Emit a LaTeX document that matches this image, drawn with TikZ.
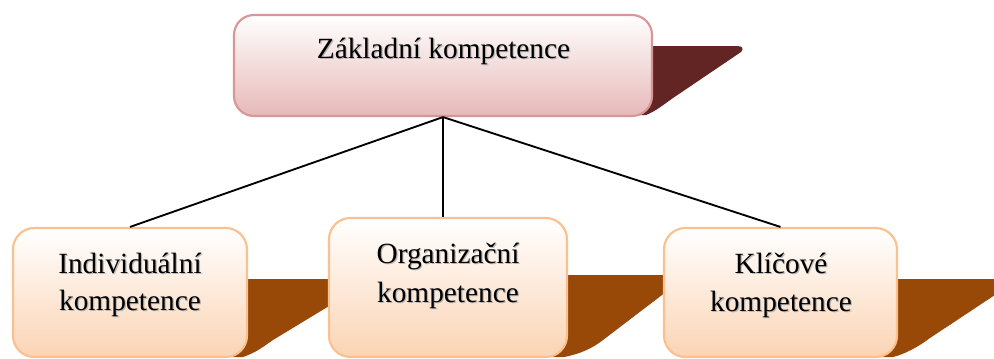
\documentclass[tikz,border=0pt]{standalone}
\usepackage{fontspec}
\setmainfont{Liberation Serif}

% text with a soft grey drop shadow
\newcommand\shtxt[1]{\makebox[0pt][l]{\kern0.9pt\raisebox{-0.9pt}{\textcolor{black!28}{#1}}}#1}

\definecolor{rootline}{HTML}{D99694}
\definecolor{rootfill}{HTML}{E6B9B8}
\definecolor{rootfold}{HTML}{632523}
\definecolor{leafline}{HTML}{FAC090}
\definecolor{leaffill}{HTML}{FBD4B4}
\definecolor{leaffold}{HTML}{984807}

\tikzset{
  rootbox/.style={draw=rootline, line width=1.6pt, rounded corners=15pt,
    top color=white, bottom color=rootfill, inner sep=0pt},
  leafbox/.style={draw=leafline, line width=1.6pt, rounded corners=16pt,
    top color=white, bottom color=leaffill, inner sep=0pt},
  rootfoldshape/.style={fill=rootfold},
  leaffoldshape/.style={fill=leaffold},
  lbl/.style={anchor=base, inner sep=0pt, font=\fontsize{22}{26}\selectfont},
  conn/.style={draw=black, line width=1.4pt},
}

\begin{document}
\begin{tikzpicture}[x=0.75pt, y=-0.75pt]
\clip (0,0) rectangle (994,358);
\fill[white] (0,0) rectangle (994,358);

% folded ribbons behind the boxes
\fill[rootfoldshape] (630,46) -- (737,46) .. controls (743,46) and (744,49) .. (741,52)
  -- (673,98) .. controls (663,105) and (656,111) .. (646,115) -- (630,115) -- cycle;
\fill[leaffoldshape] (230,279) -- (364,279) .. controls (369,279) and (370,281) .. (367,283)
  -- (273,340) .. controls (263,347) and (255,353) .. (243,357) -- (230,357) -- cycle;
\fill[leaffoldshape] (550,275) -- (680,275) .. controls (685,275) and (686,277) .. (683,279)
  -- (603,340) .. controls (593,348) and (580,354) .. (564,357) -- (550,357) -- cycle;
\fill[leaffoldshape] (880,279) -- (1010,279) .. controls (1015,279) and (1016,281) .. (1013,283)
  -- (930,338) .. controls (918,347) and (905,354) .. (893,357) -- (880,357) -- cycle;

% boxes
\node[rootbox, minimum width=418*0.75pt, minimum height=101*0.75pt] (root) at (443,65.5) {};
\node[leafbox, minimum width=234*0.75pt, minimum height=129*0.75pt] (ind) at (130,292.5) {};
\node[leafbox, minimum width=238*0.75pt, minimum height=139*0.75pt] (org) at (448,287.5) {};
\node[leafbox, minimum width=233*0.75pt, minimum height=129*0.75pt] (key) at (780.5,292.5) {};

% connectors
\draw[conn] (root.south) -- (ind.north);
\draw[conn] (root.south) -- (root.south |- org.north);
\draw[conn] (root.south) -- (key.north);

% labels
\node[lbl] (rootA) at (443.5,58) {\shtxt{Základní kompetence}};
\node[lbl] (indA) at (130,273) {\shtxt{Individuální}};
\node[lbl] (indB) at (130,310) {\shtxt{kompetence}};
\node[lbl] (orgA) at (448,263) {\shtxt{Organizační}};
\node[lbl] (orgB) at (448,302) {\shtxt{kompetence}};
\node[lbl] (keyA) at (781,273) {\shtxt{Klíčové}};
\node[lbl] (keyB) at (781,311) {\shtxt{kompetence}};
\end{tikzpicture}
\end{document}
